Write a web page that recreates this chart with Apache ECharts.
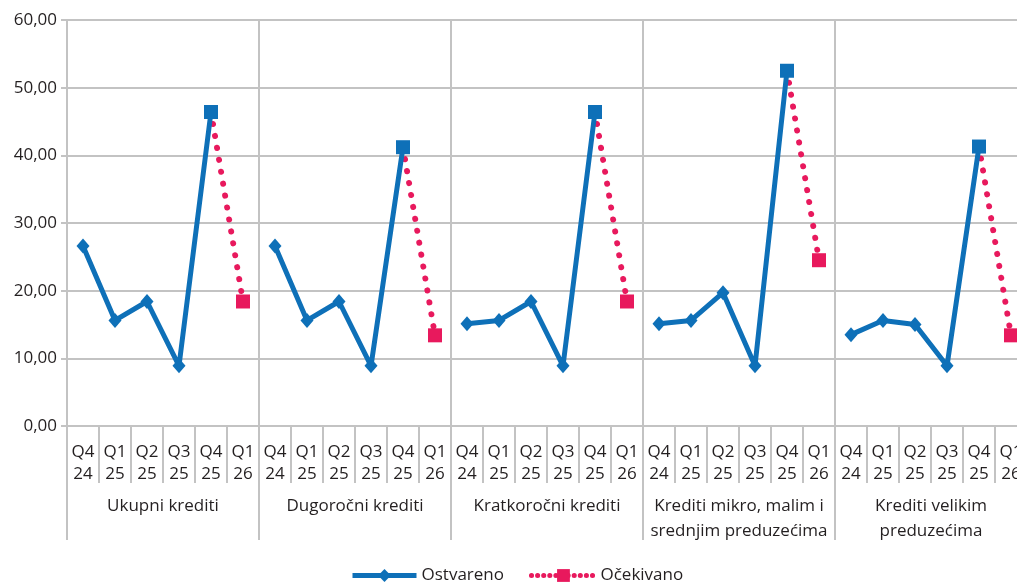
<!DOCTYPE html>
<html>
<head>
<meta charset="utf-8">
<script src="https://cdn.jsdelivr.net/npm/echarts@6/dist/echarts.min.js"></script>
<style>
  html, body { margin: 0; padding: 0; background: #ffffff; overflow: hidden; }
  /* the plot runs a little past the right edge of the window, so the last label is cut */
  #chart { width: 1030px; height: 585px; }
</style>
</head>
<body>
<div id="chart"></div>
<script>
// Quarters shown under every group of loans
const quarters = ['Q4\n24', 'Q1\n25', 'Q2\n25', 'Q3\n25', 'Q4\n25', 'Q1\n26'];

// Loan groups (second axis level)
const groups = [
  'Ukupni krediti',
  'Dugoročni krediti',
  'Kratkoročni krediti',
  'Krediti mikro, malim i\nsrednjim preduzećima',
  'Krediti velikim\npreduzećima'
];

// Realised values, Q4 24 .. Q4 25, one array per group
const ostvarenoUkupni      = [26.6, 15.6, 18.4, 8.9, 46.4];
const ostvarenoDugorocni   = [26.6, 15.6, 18.4, 8.9, 41.2];
const ostvarenoKratkorocni = [15.1, 15.6, 18.4, 8.9, 46.4];
const ostvarenoMsp         = [15.1, 15.6, 19.7, 8.9, 52.5];
const ostvarenoVelika      = [13.5, 15.6, 15.0, 8.9, 41.3];

// Expected values for Q1 26, one per group
const ocekivanoQ126 = [18.4, 13.4, 18.4, 24.5, 13.4];

// Y axis ticks
const yMin = 0, yMax = 60, yStep = 10;

const ostvarenoGroups = [ostvarenoUkupni, ostvarenoDugorocni, ostvarenoKratkorocni, ostvarenoMsp, ostvarenoVelika];

const BLUE = '#0e70b8';
const PINK = '#e8195d';
const GRID = '#c3c3c3';
const TEXT = '#231f20';
const FONT = '"Open Sans", "Noto Sans", sans-serif';

// Flatten into 30 categories; groups are separated by gaps (null)
const categories = [];
const ostvarenoData = [];
const ocekivanoData = [];
groups.forEach((g, gi) => {
  const vals = ostvarenoGroups[gi];
  quarters.forEach((q, qi) => {
    categories.push(q);
    if (qi < 4) {
      ostvarenoData.push(vals[qi]);
      ocekivanoData.push(null);
    } else if (qi === 4) {
      ostvarenoData.push({ value: vals[qi], symbol: 'rect', symbolSize: 14 });
      ocekivanoData.push({ value: vals[qi], symbol: 'none' });
    } else {
      ostvarenoData.push(null);
      ocekivanoData.push(ocekivanoQ126[gi]);
    }
  });
});

const chart = echarts.init(document.getElementById('chart'), null, { renderer: 'canvas' });

chart.setOption({
  animation: false,
  textStyle: { fontFamily: FONT },
  grid: { left: 67, top: 20, width: 960, height: 406, containLabel: false },
  legend: {
    left: 345,
    top: 562,
    itemWidth: 64,
    itemHeight: 16,
    itemGap: 25,
    textStyle: { fontSize: 17, color: TEXT, fontFamily: FONT },
    data: [
      {
        name: 'Ostvareno',
        lineStyle: { width: 5, color: BLUE }
      },
      {
        name: 'Očekivano',
        lineStyle: { width: 5, color: PINK, type: [0.1, 6], cap: 'round' }
      }
    ]
  },
  xAxis: [
    {
      type: 'category',
      position: 'bottom',
      data: categories,
      boundaryGap: true,
      axisLine: { show: true, lineStyle: { color: GRID, width: 2 } },
      axisTick: { show: true, interval: 0, length: 57, lineStyle: { color: GRID, width: 2 } },
      axisLabel: {
        interval: 0,
        margin: 15,
        fontSize: 17,
        lineHeight: 22,
        color: TEXT,
        fontFamily: FONT
      },
      splitLine: {
        show: true,
        interval: (index) => index % 6 === 0,
        lineStyle: { color: GRID, width: 2 }
      }
    },
    {
      type: 'category',
      position: 'bottom',
      data: groups,
      boundaryGap: true,
      axisLine: { show: false },
      axisTick: { show: true, interval: 0, length: 114, lineStyle: { color: GRID, width: 2 } },
      axisLabel: {
        interval: 0,
        margin: 68,
        fontSize: 17,
        lineHeight: 25,
        color: TEXT,
        fontFamily: FONT
      },
      splitLine: { show: false }
    }
  ],
  yAxis: {
    type: 'value',
    min: yMin,
    max: yMax,
    interval: yStep,
    axisLine: { show: true, lineStyle: { color: GRID, width: 2 } },
    axisTick: { show: true, length: 6, lineStyle: { color: GRID, width: 2 } },
    axisLabel: {
      margin: 10,
      fontSize: 17,
      color: TEXT,
      fontFamily: FONT,
      formatter: (v) => v.toFixed(2).replace('.', ',')
    },
    splitLine: { show: true, lineStyle: { color: GRID, width: 2 } }
  },
  series: [
    {
      name: 'Očekivano',
      type: 'line',
      xAxisIndex: 0,
      data: ocekivanoData,
      connectNulls: false,
      symbol: 'rect',
      symbolSize: 14,
      showAllSymbol: true,
      z: 2,
      itemStyle: { color: PINK },
      lineStyle: { color: PINK, width: 6, type: [0.1, 12], cap: 'round' }
    },
    {
      name: 'Ostvareno',
      type: 'line',
      xAxisIndex: 0,
      data: ostvarenoData,
      connectNulls: false,
      symbol: 'diamond',
      symbolSize: [13, 15],
      showAllSymbol: true,
      z: 3,
      itemStyle: { color: BLUE },
      lineStyle: { color: BLUE, width: 5 }
    }
  ]
});
</script>
</body>
</html>
